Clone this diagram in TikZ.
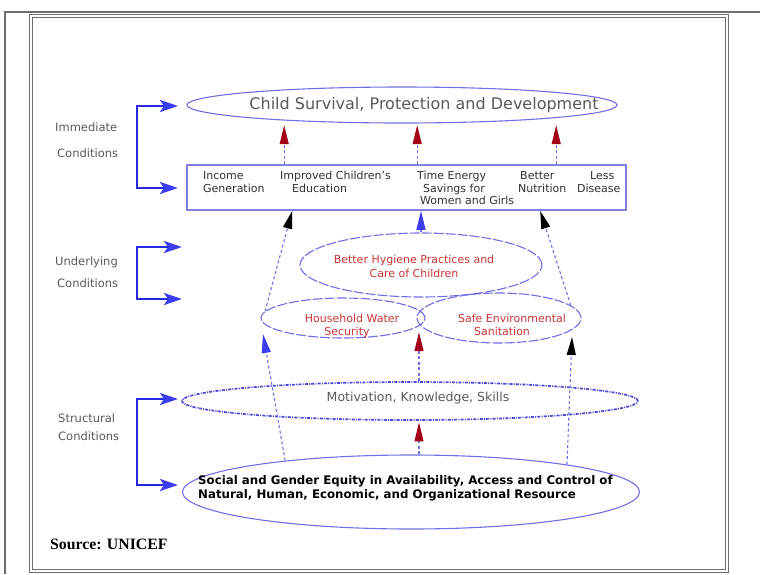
\documentclass[tikz,border=0pt]{standalone}
\usepackage{fontspec}
\setmainfont{DejaVu Sans}
\newfontfamily\srcfont{Liberation Serif}
\usetikzlibrary{shapes.geometric,arrows.meta}
\definecolor{elc}{RGB}{112,112,228}
\definecolor{boxc}{RGB}{128,128,225}
\definecolor{brkc}{RGB}{40,40,225}
\definecolor{motc}{RGB}{70,70,215}
\definecolor{gtxt}{RGB}{90,90,90}
\definecolor{btxt}{RGB}{50,50,50}
\definecolor{rtxt}{RGB}{200,55,55}
\definecolor{rhead}{RGB}{165,0,25}
\definecolor{bhead}{RGB}{60,60,240}
\definecolor{framec}{RGB}{110,110,110}
\tikzset{
  ell/.style={ellipse, draw=elc, line width=1.1pt, inner sep=0pt},
  dell/.style={ell, dash pattern=on 10pt off 2pt},
  shaft/.style={draw=elc, line width=1.1pt, dash pattern=on 3pt off 2.5pt},
  redup/.style={shaft, -{Triangle[width=9pt,length=19pt,fill=rhead,color=rhead]}},
  blueup/.style={shaft, -{Triangle[width=9pt,length=19pt,fill=bhead,color=bhead]}},
  blackup/.style={shaft, -{Triangle[width=9pt,length=18pt,fill=black,color=black]}},
  brk/.style={draw=brkc, line width=2.6pt, {Stealth[length=18pt,width=12pt,inset=4pt,color=bhead,fill=bhead]}-{Stealth[length=18pt,width=12pt,inset=4pt,color=bhead,fill=bhead]}},
  lab/.style={text=gtxt, font=\fontsize{11.5}{13}\selectfont, anchor=west, inner sep=0pt},
  boxt/.style={text=btxt, font=\fontsize{11}{12}\selectfont, anchor=base west, inner sep=0pt},
  redt/.style={text=rtxt, font=\fontsize{11}{12}\selectfont, anchor=base, inner sep=0pt},
  soct/.style={text=black, font=\bfseries\fontsize{11.8}{13}\selectfont, anchor=base west, inner sep=0pt},
}
\begin{document}
\begin{tikzpicture}[x=1pt,y=-1pt]
\useasboundingbox (0,0) rectangle (760,574);
\fill[white] (0,0) rectangle (760,574);
% frames
\draw[framec, line width=1.3pt] (5,574) -- (5,12) -- (760,12);
\draw[framec, line width=1pt] (29.5,14.5) rectangle (728,572);
\draw[framec, line width=1pt] (32,17) rectangle (725.5,569.5);

% ellipses and box
\node[ell, minimum width=430, minimum height=36] (csp) at (402,105) {};
\node[text=gtxt, font=\fontsize{16}{18}\selectfont, inner sep=0pt] (csptxt) at (424,105) {Child Survival, Protection and Development};

\node[draw=boxc, line width=1.6pt, minimum width=439, minimum height=45, inner sep=0pt] (box) at (406.5,187.5) {};

\node[dell, minimum width=242, minimum height=64] (hyg) at (421,265) {};
\node[dell, minimum width=164, minimum height=40] (hh) at (343,318) {};
\node[dell, minimum width=164, minimum height=50] (san) at (499,318) {};

\node[ell, draw=motc, line width=1.7pt, dash pattern=on 3pt off 1.2pt on 1pt off 1.2pt, minimum width=456, minimum height=38] (mot) at (410,401) {};
\node[text=gtxt, font=\fontsize{12.5}{14}\selectfont, inner sep=0pt] (mottxt) at (418,398) {Motivation, Knowledge, Skills};

\node[ell, minimum width=457, minimum height=74] (soc) at (411,492) {};

% box texts
\node[boxt] (t1a) at (203,179) {Income};
\node[boxt] (t1b) at (203,192) {Generation};
\node[boxt] (t2a) at (280,179) {Improved Children's};
\node[boxt] (t2b) at (292,192) {Education};
\node[boxt] (t3a) at (417,179) {Time Energy};
\node[boxt] (t3b) at (423,192) {Savings for};
\node[boxt] (t3c) at (420,204) {Women and Girls};
\node[boxt] (t4a) at (520,179) {Better};
\node[boxt] (t4b) at (518,192) {Nutrition};
\node[boxt] (t5a) at (590,179) {Less};
\node[boxt] (t5b) at (577,192) {Disease};

% red texts
\node[redt] (hyga) at (414,263) {Better Hygiene Practices and};
\node[redt] (hygb) at (414,277) {Care of Children};
\node[redt] (hha) at (352,322) {Household Water};
\node[redt] (hhb) at (347,335) {Security};
\node[redt] (sana) at (512,322) {Safe Environmental};
\node[redt] (sanb) at (502,335) {Sanitation};

% social text
\node[soct] (soca) at (198,484) {Social and Gender Equity in Availability, Access and Control of};
\node[soct] (socb) at (198,498) {Natural, Human, Economic, and Organizational Resource};

% source
\node[font=\srcfont\bfseries\fontsize{15.8}{17}\selectfont, anchor=west, inner sep=0pt] (src) at (50,544) {Source: UNICEF};

% left labels
\node[lab] (l1a) at (55,127) {Immediate};
\node[lab] (l1b) at (57,153) {Conditions};
\node[lab] (l2a) at (55,262) {Underlying};
\node[lab] (l2b) at (57,283) {Conditions};
\node[lab] (l3a) at (58,418) {Structural};
\node[lab] (l3b) at (58,436) {Conditions};

% brackets
\draw[brk] (178,106) -- (137,106) -- (137,188) -- (178,188);
\draw[brk] (182,247) -- (137,247) -- (137,299) -- (182,299);
\draw[brk] (178,399) -- (137,399) -- (137,485) -- (178,485);

% arrows from box to top ellipse
\draw[redup] ([xshift=98]box.north west) -- ++(0,-39);
\draw[redup] ([xshift=231]box.north west) -- ++(0,-39);
\draw[redup] ([xshift=370]box.north west) -- ++(0,-39);

% hygiene to box
\draw[blueup] (hyg.north) -- ([xshift=14.5]box.south);

% middle arrows
\draw[redup] ([xshift=9]mot.north) -- ++(0,-49);
\draw[redup] ([xshift=8]soc.north) -- ++(0,-32);

% side paths
\coordinate (lt) at (263,334);
\coordinate (rt) at (572,337);
\draw[blueup] (soc.166) -- (lt);
\draw[blackup] (hh.175) -- ([xshift=106]box.south west);
\draw[blackup] (soc.10) -- (rt);
\draw[blackup] (san.10) -- ([xshift=354]box.south west);
\end{tikzpicture}
\end{document}
